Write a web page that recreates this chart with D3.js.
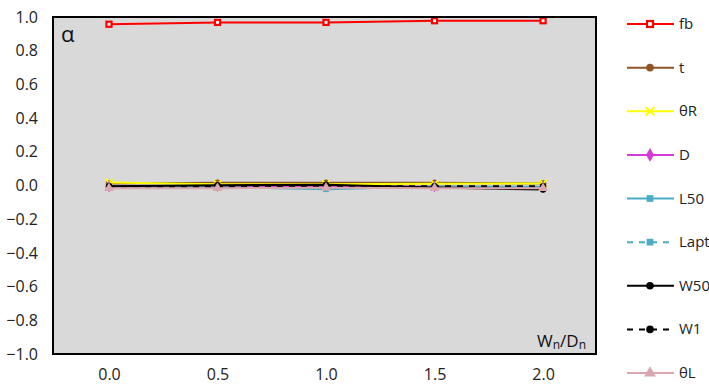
<!DOCTYPE html>
<html>
<head>
<meta charset="utf-8">
<script src="https://cdn.jsdelivr.net/npm/d3@7"></script>
<style>
  html, body { margin: 0; padding: 0; background: #fff; }
  svg { display: block; font-family: "Open Sans", "Liberation Sans", sans-serif; }
</style>
</head>
<body>
<svg id="chart" width="709" height="384"></svg>
<script>
// Ratio W_n/D_n on the x axis
const ratios = [0.0, 0.5, 1.0, 1.5, 2.0];
const xTicks = [0.0, 0.5, 1.0, 1.5, 2.0];
const yTicks = [1.0, 0.8, 0.6, 0.4, 0.2, 0.0, -0.2, -0.4, -0.6, -0.8, -1.0];

// Coefficient alpha for each parameter
const fb   = [0.957, 0.968, 0.968, 0.978, 0.978];
const t    = [0.012, 0.016, 0.016, 0.016, 0.012];
const thR  = [0.018, 0.008, 0.008, 0.010, 0.012];
const D    = [-0.006, -0.004, -0.006, -0.006, -0.010];
const L50  = [-0.008, -0.010, -0.022, -0.006, -0.008];
const Lapt = [-0.006, -0.008, -0.012, -0.006, -0.008];
const W50  = [-0.004, 0.002, 0.004, -0.012, -0.024];
const W1   = [-0.006, -0.008, -0.004, -0.004, -0.004];
const thL  = [-0.016, -0.016, -0.014, -0.016, -0.016];

const seriesNames  = ["fb", "t", "θR", "D", "L50", "Lapt", "W50", "W1", "θL"];
const seriesValues = [fb, t, thR, D, L50, Lapt, W50, W1, thL];

const styles = {
  "fb":   { color: "#ff0000", dash: null,  marker: "squareOpen" },
  "t":    { color: "#8f5526", dash: null,  marker: "circle" },
  "θR":   { color: "#ffff00", dash: null,  marker: "star" },
  "D":    { color: "#d63ad6", dash: null,  marker: "diamond" },
  "L50":  { color: "#4aacc5", dash: null,  marker: "square" },
  "Lapt": { color: "#4aacc5", dash: "6,6", marker: "square" },
  "W50":  { color: "#000000", dash: null,  marker: "circle" },
  "W1":   { color: "#000000", dash: "6,6", marker: "circle" },
  "θL":   { color: "#dba7ae", dash: null,  marker: "triangle" }
};

const svg = d3.select("#chart");
const plot = { left: 53, top: 17, right: 596, bottom: 354 };

const x = d3.scaleLinear().domain([-0.258, 2.244]).range([plot.left, plot.right]);
const y = d3.scaleLinear().domain([-1, 1]).range([plot.bottom, plot.top]);

// plot area
svg.append("rect")
  .attr("x", plot.left).attr("y", plot.top)
  .attr("width", plot.right - plot.left).attr("height", plot.bottom - plot.top)
  .attr("fill", "#d9d9d9");

// axes: labels only
const yAxis = d3.axisLeft(y).tickValues(yTicks).tickFormat(d3.format(".1f")).tickSize(0).tickPadding(15);
svg.append("g").attr("transform", `translate(${plot.left},0)`).call(yAxis)
  .call(g => g.select(".domain").remove())
  .call(g => g.selectAll("text").attr("font-size", 16).attr("fill", "#222")
    .attr("font-family", "'Open Sans', sans-serif"));

const xAxis = d3.axisBottom(x).tickValues(xTicks).tickFormat(d3.format(".1f")).tickSize(0).tickPadding(15);
svg.append("g").attr("transform", `translate(0,${plot.bottom})`).call(xAxis)
  .call(g => g.select(".domain").remove())
  .call(g => g.selectAll("text").attr("font-size", 16).attr("fill", "#222")
    .attr("font-family", "'Open Sans', sans-serif"));

// series lines
const line = d3.line().x((d, i) => x(ratios[i])).y(d => y(d));
const markerSymbols = {
  squareOpen: d3.symbolSquare, square: d3.symbolSquare, circle: d3.symbolCircle,
  star: d3.symbolX, diamond: d3.symbolDiamond, triangle: d3.symbolTriangle
};

function drawMarker(g, kind, color, cx, cy, scale) {
  const s = scale || 1;
  if (kind === "squareOpen") {
    g.append("rect").attr("x", cx - 3 * s).attr("y", cy - 3 * s)
      .attr("width", 6 * s).attr("height", 6 * s)
      .attr("fill", "#fff").attr("stroke", color).attr("stroke-width", 2.2);
  } else if (kind === "star") {
    g.append("path").attr("transform", `translate(${cx},${cy})`)
      .attr("d", d3.symbol(d3.symbolX, 50 * s * s)())
      .attr("fill", "none").attr("stroke", color).attr("stroke-width", 2);
  } else {
    const size = kind === "triangle" ? 60 : kind === "diamond" ? 55 : 45;
    g.append("path").attr("transform", `translate(${cx},${cy})`)
      .attr("d", d3.symbol(markerSymbols[kind], size * s * s)())
      .attr("fill", color);
  }
}

const series = svg.append("g");
seriesNames.forEach((name, k) => {
  const st = styles[name];
  const vals = seriesValues[k];
  series.append("path")
    .attr("d", line(vals))
    .attr("fill", "none")
    .attr("stroke", st.color)
    .attr("stroke-width", 2)
    .attr("stroke-dasharray", st.dash);
  vals.forEach((v, i) => drawMarker(series, st.marker, st.color, x(ratios[i]), y(v), 0.85));
});

// frame
svg.append("rect")
  .attr("x", plot.left).attr("y", plot.top)
  .attr("width", plot.right - plot.left).attr("height", plot.bottom - plot.top)
  .attr("fill", "none").attr("stroke", "#000").attr("stroke-width", 2);

// panel label and axis title
svg.append("text").attr("x", 61).attr("y", 42)
  .attr("font-size", 22).attr("fill", "#111").text("α");

const title = svg.append("text").attr("x", 537).attr("y", 347)
  .attr("font-size", 17).attr("fill", "#111");
title.append("tspan").text("W");
title.append("tspan").attr("font-size", 12).attr("dy", 2).text("n");
title.append("tspan").attr("dy", -2).text("/D");
title.append("tspan").attr("font-size", 12).attr("dy", 2).text("n");

// legend
const legend = svg.append("g");
const legendY = d3.scalePoint().domain(seriesNames).range([24, 373]);
seriesNames.forEach(name => {
  const st = styles[name];
  const ly = legendY(name);
  legend.append("line")
    .attr("x1", 627).attr("x2", 674).attr("y1", ly).attr("y2", ly)
    .attr("stroke", st.color).attr("stroke-width", 2)
    .attr("stroke-dasharray", st.dash);
  drawMarker(legend, st.marker, st.color, 650, ly, 1);
  legend.append("text").attr("x", 679).attr("y", ly + 5)
    .attr("font-size", 15).attr("fill", "#222").text(name);
});
</script>
</body>
</html>
